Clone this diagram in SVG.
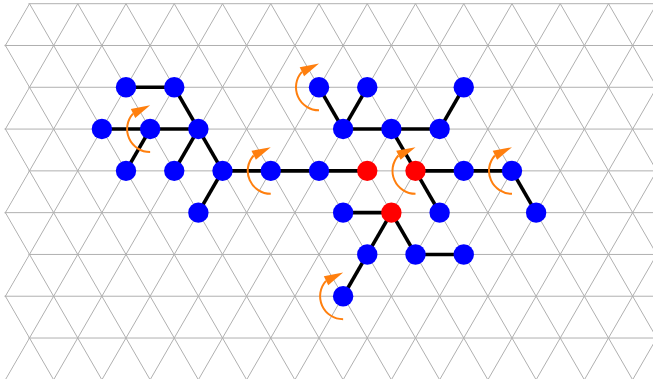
<svg xmlns="http://www.w3.org/2000/svg" xmlns:xlink="http://www.w3.org/1999/xlink" width="653" height="379" viewBox="0 0 653 379">
<style>
.grid{fill:none;stroke:#b0b0b0;stroke-width:1}
.edge{stroke:#000;stroke-width:3.6;stroke-linecap:butt}
.blue{fill:#0000ff}
.red{fill:#ff0000}
</style>
<defs>
<clipPath id="gclip"><polygon points="28.5,0 28.5,3.7 4.375,45.49 28.5,87.28 4.375,129.07 28.5,170.86 4.375,212.65 28.5,254.44 4.375,296.23 28.5,338.02 4.375,379.81 4.375,400 700,400 700,0"/></clipPath>
<g id="rot"><path d="M0 23 A23 23 0 0 1 -17.1 -15.4" fill="none" stroke="#ff7f0e" stroke-width="2"/><polygon points="0,-23.7 -19.3,-20 -14.9,-11" fill="#ff7f0e"/></g>
</defs>
<rect width="653" height="379" fill="#ffffff"/>
<g id="grid" class="grid" clip-path="url(#gclip)">
<path d="M0 3.7H700M0 45.49H700M0 87.28H700M0 129.07H700M0 170.86H700M0 212.65H700M0 254.44H700M0 296.23H700M0 338.02H700M0 379.81H700"/>
<path d="M-211.75 3.7L17.05 400M-163.5 3.7L65.3 400M-115.25 3.7L113.55 400M-67 3.7L161.8 400M-18.75 3.7L210.05 400M29.5 3.7L258.3 400M77.75 3.7L306.55 400M126 3.7L354.8 400M174.25 3.7L403.05 400M222.5 3.7L451.3 400M270.75 3.7L499.55 400M319 3.7L547.8 400M367.25 3.7L596.05 400M415.5 3.7L644.3 400M463.75 3.7L692.55 400M512 3.7L740.8 400M560.25 3.7L789.05 400M608.5 3.7L837.3 400"/>
<path d="M29.5 3.7L-199.3 400M77.75 3.7L-151.05 400M126 3.7L-102.8 400M174.25 3.7L-54.55 400M222.5 3.7L-6.3 400M270.75 3.7L41.95 400M319 3.7L90.2 400M367.25 3.7L138.45 400M415.5 3.7L186.7 400M463.75 3.7L234.95 400M512 3.7L283.2 400M560.25 3.7L331.45 400M608.5 3.7L379.7 400M656.75 3.7L427.95 400M705 3.7L476.2 400M753.25 3.7L524.45 400M801.5 3.7L572.7 400M849.75 3.7L620.95 400M898 3.7L669.2 400"/>
</g>
<g id="edges" class="edge">
<line x1="126" y1="87.28" x2="174.25" y2="87.28"/>
<line x1="174.25" y1="87.28" x2="198.375" y2="129.07"/>
<line x1="101.875" y1="129.07" x2="150.125" y2="129.07"/>
<line x1="150.125" y1="129.07" x2="198.375" y2="129.07"/>
<line x1="150.125" y1="129.07" x2="126" y2="170.86"/>
<line x1="198.375" y1="129.07" x2="174.25" y2="170.86"/>
<line x1="198.375" y1="129.07" x2="222.5" y2="170.86"/>
<line x1="222.5" y1="170.86" x2="198.375" y2="212.65"/>
<line x1="222.5" y1="170.86" x2="270.75" y2="170.86"/>
<line x1="270.75" y1="170.86" x2="319" y2="170.86"/>
<line x1="319" y1="170.86" x2="367.25" y2="170.86"/>
<line x1="319" y1="87.28" x2="343.125" y2="129.07"/>
<line x1="367.25" y1="87.28" x2="343.125" y2="129.07"/>
<line x1="343.125" y1="129.07" x2="391.375" y2="129.07"/>
<line x1="391.375" y1="129.07" x2="439.625" y2="129.07"/>
<line x1="439.625" y1="129.07" x2="463.75" y2="87.28"/>
<line x1="391.375" y1="129.07" x2="415.5" y2="170.86"/>
<line x1="415.5" y1="170.86" x2="439.625" y2="212.65"/>
<line x1="415.5" y1="170.86" x2="463.75" y2="170.86"/>
<line x1="463.75" y1="170.86" x2="512" y2="170.86"/>
<line x1="512" y1="170.86" x2="536.125" y2="212.65"/>
<line x1="343.125" y1="212.65" x2="391.375" y2="212.65"/>
<line x1="391.375" y1="212.65" x2="367.25" y2="254.44"/>
<line x1="391.375" y1="212.65" x2="415.5" y2="254.44"/>
<line x1="415.5" y1="254.44" x2="463.75" y2="254.44"/>
<line x1="367.25" y1="254.44" x2="343.125" y2="296.23"/>
</g>
<g id="nodes">
<circle id="n1" class="blue" cx="126" cy="87.28" r="10.2"/>
<circle id="n2" class="blue" cx="174.25" cy="87.28" r="10.2"/>
<circle id="n3" class="blue" cx="319" cy="87.28" r="10.2"/>
<circle id="n4" class="blue" cx="367.25" cy="87.28" r="10.2"/>
<circle id="n5" class="blue" cx="463.75" cy="87.28" r="10.2"/>
<circle id="n6" class="blue" cx="101.875" cy="129.07" r="10.2"/>
<circle id="n7" class="blue" cx="150.125" cy="129.07" r="10.2"/>
<circle id="n8" class="blue" cx="198.375" cy="129.07" r="10.2"/>
<circle id="n9" class="blue" cx="343.125" cy="129.07" r="10.2"/>
<circle id="n10" class="blue" cx="391.375" cy="129.07" r="10.2"/>
<circle id="n11" class="blue" cx="439.625" cy="129.07" r="10.2"/>
<circle id="n12" class="blue" cx="126" cy="170.86" r="10.2"/>
<circle id="n13" class="blue" cx="174.25" cy="170.86" r="10.2"/>
<circle id="n14" class="blue" cx="222.5" cy="170.86" r="10.2"/>
<circle id="n15" class="blue" cx="270.75" cy="170.86" r="10.2"/>
<circle id="n16" class="blue" cx="319" cy="170.86" r="10.2"/>
<circle id="n17" class="red" cx="367.25" cy="170.86" r="10.2"/>
<circle id="n18" class="red" cx="415.5" cy="170.86" r="10.2"/>
<circle id="n19" class="blue" cx="463.75" cy="170.86" r="10.2"/>
<circle id="n20" class="blue" cx="512" cy="170.86" r="10.2"/>
<circle id="n21" class="blue" cx="198.375" cy="212.65" r="10.2"/>
<circle id="n22" class="blue" cx="343.125" cy="212.65" r="10.2"/>
<circle id="n23" class="red" cx="391.375" cy="212.65" r="10.2"/>
<circle id="n24" class="blue" cx="439.625" cy="212.65" r="10.2"/>
<circle id="n25" class="blue" cx="536.125" cy="212.65" r="10.2"/>
<circle id="n26" class="blue" cx="367.25" cy="254.44" r="10.2"/>
<circle id="n27" class="blue" cx="415.5" cy="254.44" r="10.2"/>
<circle id="n28" class="blue" cx="463.75" cy="254.44" r="10.2"/>
<circle id="n29" class="blue" cx="343.125" cy="296.23" r="10.2"/>
</g>
<g id="rotations">
<use xlink:href="#rot" href="#rot" x="150.125" y="129.07"/>
<use xlink:href="#rot" href="#rot" x="319" y="87.28"/>
<use xlink:href="#rot" href="#rot" x="270.75" y="170.86"/>
<use xlink:href="#rot" href="#rot" x="415.5" y="170.86"/>
<use xlink:href="#rot" href="#rot" x="512" y="170.86"/>
<use xlink:href="#rot" href="#rot" x="343.125" y="296.23"/>
</g>
</svg>
